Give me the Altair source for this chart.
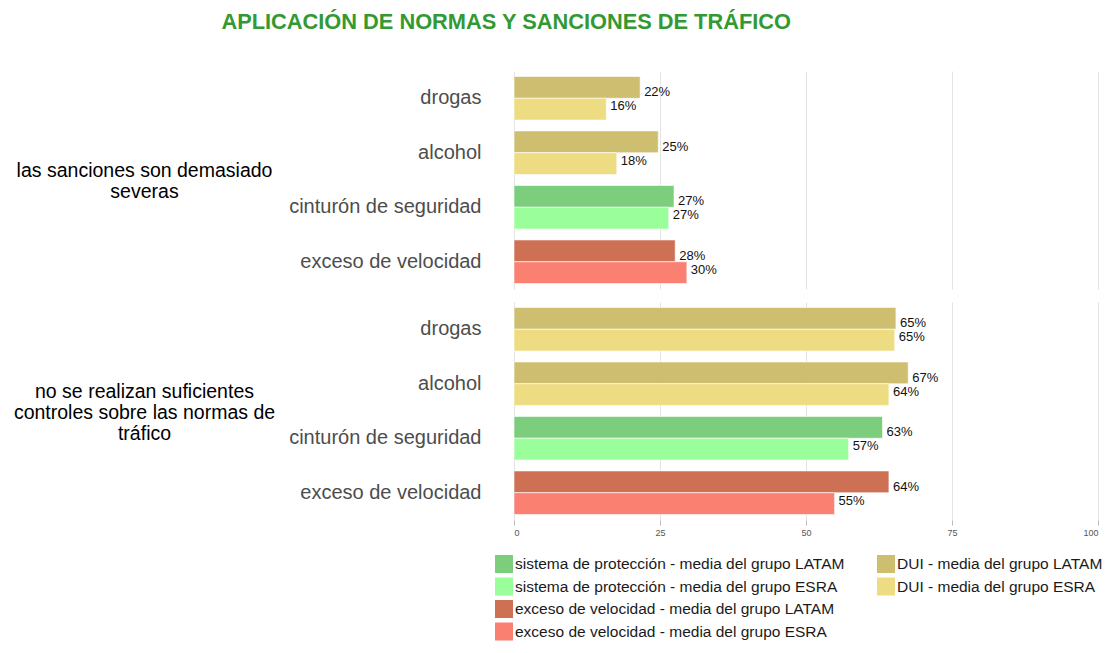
import altair as alt
import pandas as pd

preguntas = [
    "las sanciones son demasiado severas",
    "no se realizan suficientes controles sobre las normas de tráfico",
]
preguntas_lineas = [
    ["las sanciones son demasiado", "severas"],
    ["no se realizan suficientes", "controles sobre las normas de", "tráfico"],
]
categorias = ["drogas", "alcohol", "cinturón de seguridad", "exceso de velocidad"]
tipos = ["DUI", "DUI", "sistema de protección", "exceso de velocidad"]
series = ["LATAM", "ESRA"]

latam_p1 = [21.6, 24.7, 27.4, 27.6]
esra_p1 = [15.8, 17.6, 26.5, 29.6]
latam_p2 = [65.4, 67.5, 63.1, 64.2]
esra_p2 = [65.2, 64.2, 57.3, 54.9]

et_latam_p1 = ["22%", "25%", "27%", "28%"]
et_esra_p1 = ["16%", "18%", "27%", "30%"]
et_latam_p2 = ["65%", "67%", "63%", "64%"]
et_esra_p2 = ["65%", "64%", "57%", "55%"]

valores = {
    (0, "LATAM"): (latam_p1, et_latam_p1),
    (0, "ESRA"): (esra_p1, et_esra_p1),
    (1, "LATAM"): (latam_p2, et_latam_p2),
    (1, "ESRA"): (esra_p2, et_esra_p2),
}

rows = []
for pi, preg in enumerate(preguntas):
    for ci, cat in enumerate(categorias):
        for s in series:
            vals, ets = valores[(pi, s)]
            rows.append({
                "pregunta": preg,
                "categoria": cat,
                "tipo": tipos[ci],
                "serie": s,
                "leyenda": f"{tipos[ci]} - media del grupo {s}",
                "valor": vals[ci],
                "etiqueta": ets[ci],
            })
df = pd.DataFrame(rows)

color_dom = [
    "sistema de protección - media del grupo LATAM",
    "sistema de protección - media del grupo ESRA",
    "exceso de velocidad - media del grupo LATAM",
    "exceso de velocidad - media del grupo ESRA",
]
color_rng = ["#7CCD7C", "#9AFF9A", "#CD7054", "#FA8072"]
fill_dom = ["DUI - media del grupo LATAM", "DUI - media del grupo ESRA"]
fill_rng = ["#CDBE70", "#EEDC82"]

FONT = "Liberation Sans"
W, H = 584, 218

leg_common = dict(
    title=None, orient="none", direction="vertical", symbolType="square",
    symbolSize=324, symbolStrokeWidth=0, labelFontSize=15.5, labelFont=FONT,
    labelColor="#1a1a1a", labelLimit=500, rowPadding=4.5, labelOffset=2, padding=0,
)


def panel(pi, bottom):
    x_axis = alt.Axis(
        values=[0, 25, 50, 75, 100], title=None, grid=True, gridColor="#e3e3e3",
        domain=False, tickColor="#bbbbbb", tickSize=5, labelFontSize=9,
        labelColor="#555555", labelFont=FONT, labelPadding=3,
        labels=bottom, ticks=bottom,
    )
    n = len(preguntas_lineas[pi])
    y_axis = alt.Axis(
        title=preguntas_lineas[pi], titleAngle=0, titleAlign="center",
        titleBaseline="middle", titleFont=FONT, titleFontSize=19.5,
        titleFontWeight="normal", titleColor="#000000", titleLineHeight=21,
        titleX=-370, titleY=H / 2 - (n - 1) * 21 / 2 + 1,
        ticks=False, domain=False, labelFontSize=20, labelColor="#4d4d4d",
        labelFont=FONT, labelPadding=33, labelLimit=400,
    )
    x = alt.X("valor:Q", scale=alt.Scale(domain=[0, 100], nice=False), axis=x_axis)
    y = alt.Y("categoria:N", sort=categorias,
              scale=alt.Scale(paddingInner=0.2, paddingOuter=0.1), axis=y_axis)
    yoff = alt.YOffset("serie:N", sort=series)

    bars1 = alt.Chart().transform_filter(
        alt.FieldOneOfPredicate(field="tipo", oneOf=["sistema de protección", "exceso de velocidad"])
    ).mark_bar(stroke="white", strokeWidth=0.6).encode(
        x=x, y=y, yOffset=yoff,
        color=alt.Color(
            "leyenda:N", scale=alt.Scale(domain=color_dom, range=color_rng),
            legend=alt.Legend(legendX=-19, legendY=484, **leg_common),
        ),
    )
    bars2 = alt.Chart().transform_filter(
        alt.FieldEqualPredicate(field="tipo", equal="DUI")
    ).mark_bar(stroke="white", strokeWidth=0.6).encode(
        x=x, y=y, yOffset=yoff,
        fill=alt.Fill(
            "leyenda:N", scale=alt.Scale(domain=fill_dom, range=fill_rng),
            legend=alt.Legend(legendX=363, legendY=484, **leg_common),
        ),
    )
    t1 = alt.Chart().transform_filter(
        alt.FieldEqualPredicate(field="serie", equal="LATAM")
    ).mark_text(align="left", dx=4, dy=5, fontSize=13, font=FONT, color="#111111").encode(
        x=x, y=y, yOffset=yoff, text="etiqueta:N"
    )
    t2 = alt.Chart().transform_filter(
        alt.FieldEqualPredicate(field="serie", equal="ESRA")
    ).mark_text(align="left", dx=4, dy=-3, fontSize=13, font=FONT, color="#111111").encode(
        x=x, y=y, yOffset=yoff, text="etiqueta:N"
    )
    return alt.layer(
        bars1, bars2, t1, t2, data=df[df["pregunta"] == preguntas[pi]]
    ).properties(width=W, height=H)


chart = alt.vconcat(panel(0, False), panel(1, True), spacing=13).properties(
    title=alt.TitleParams(
        "APLICACIÓN DE NORMAS Y SANCIONES DE TRÁFICO",
        font=FONT, fontSize=21.8, fontWeight="bold", color="#339933",
        anchor="start", frame="bounds", dx=208, offset=37,
    ),
    padding={"left": 5, "top": 4, "right": 0, "bottom": 0},
).configure_view(stroke=None)

chart.save("out.html", embed_options={"renderer": "svg", "actions": False})
